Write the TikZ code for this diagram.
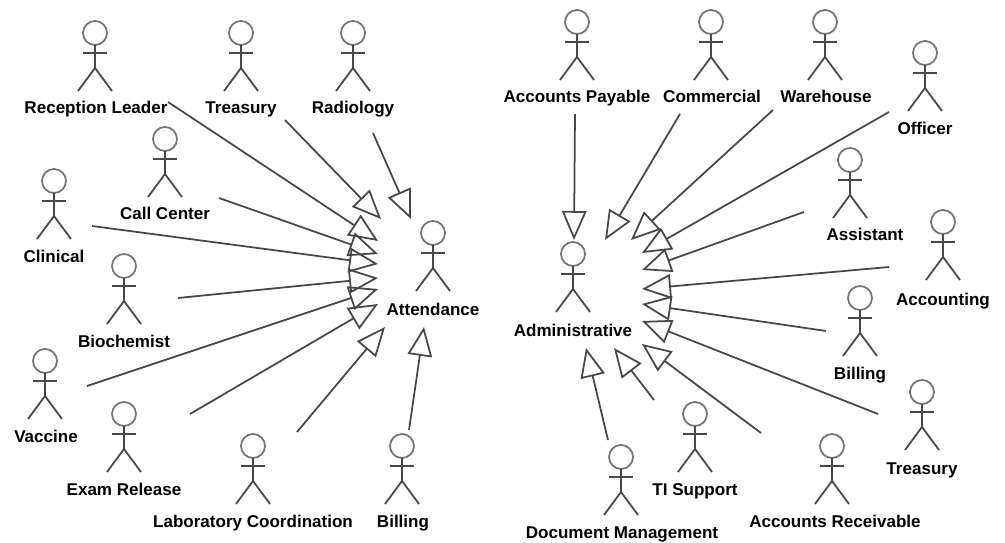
\documentclass[tikz,border=0pt]{standalone}
\usepackage{fontspec}
\setmainfont{Liberation Sans}
\usetikzlibrary{arrows.meta}

\tikzset{
  actorline/.style={draw=black!72, line width=1pt},
  actorlabel/.style={font=\fontsize{9.7}{11}\selectfont\bfseries, inner sep=0pt,
    text height=7pt, text depth=0pt},
  inherit/.style={draw=black!72, line width=1pt,
    -{Triangle[open,length=16.5pt,width=14pt]}},
  actor/.pic={
    \draw[black!55, line width=1pt] (0,0) circle [radius=12];
    \draw[actorline] (0,12) -- (0,35);
    \draw[actorline] (-12,20) -- (12,20);
    \draw[actorline] (-17,58) -- (0,35) -- (17,58);
  }
}

\begin{document}
\begin{tikzpicture}[x=0.02cm, y=-0.02cm]

  \useasboundingbox (0,0) rectangle (1005,543);

  % Actors: name / head / label
  \foreach \name/\hx/\hy/\lx/\ly/\txt in {
      reception/95/33/96/107/Reception Leader,
      treasuryA/241/33/241/107/Treasury,
      radiology/353/33/353/107/Radiology,
      callcenter/165/139/165/213/Call Center,
      clinical/54/181/54/256/Clinical,
      biochemist/124/266/124/341/Biochemist,
      vaccine/45/361/46/436/Vaccine,
      examrelease/124/414/124/489/Exam Release,
      labcoord/253/446/253/521/Laboratory Coordination,
      billingA/402/446/403/521/Billing,
      attendance/433/233/433/309/Attendance,
      payable/577/22/577/96/Accounts Payable,
      commercial/711/22/712/96/Commercial,
      warehouse/825/22/826/96/Warehouse,
      officer/925/53/925/128/Officer,
      assistant/850/160/865/234/Assistant,
      accounting/943/222/943/299/Accounting,
      billingB/860/298/860/373/Billing,
      treasuryB/922/392/922/468/Treasury,
      receivable/832/446/835/521/Accounts Receivable,
      tisupport/695/414/695/489/TI Support,
      docmanage/621/457/622/532/Document Management,
      administrative/573/254/573/330/Administrative} {
    \pic at (\hx,\hy) {actor};
    \node[actorlabel] (\name) at (\lx,\ly) {\txt};
  }

  % Generalisations into Attendance and Administrative
  \foreach \name/\fx/\fy/\tx/\ty in {
      treasuryA/285/120/381/219,
      radiology/373/133/411/219,
      reception/168/102/378/241,
      callcenter/219/198/378/254,
      clinical/92/226/378/264,
      biochemist/178/298/378/278,
      vaccine/87/386/378/289,
      examrelease/190/414/378/304,
      labcoord/297/432/385/327,
      billingA/409/430/424/327,
      payable/575/114/574/240,
      commercial/680/114/605/240,
      warehouse/773/110/631/240,
      officer/889/112/642/253,
      assistant/804/212/642/270,
      accounting/889/267/642/289,
      billingB/826/331/642/304,
      treasuryB/878/414/642/321,
      receivable/761/433/642/344,
      tisupport/654/400/614/348,
      docmanage/608/440/586/348} {
    \coordinate (\name-from) at (\fx,\fy);
    \coordinate (\name-to) at (\tx,\ty);
    \draw[inherit] (\name-from) -- (\name-to);
  }

\end{tikzpicture}
\end{document}
